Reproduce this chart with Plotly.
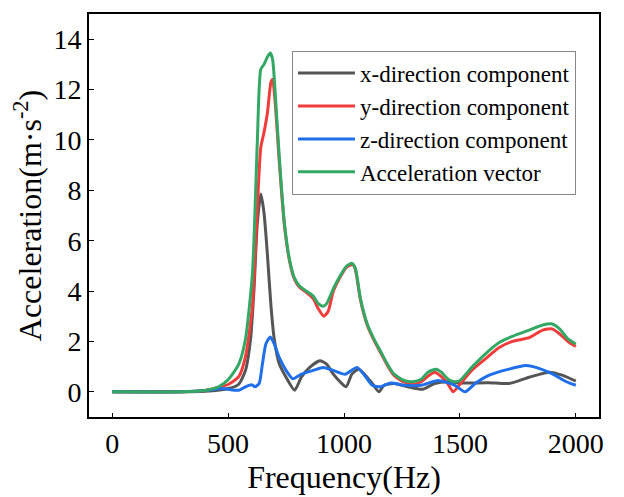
import plotly.graph_objects as go

# x-direction component
fx = [0, 300, 400, 502, 546, 575, 597, 612, 626, 641, 655, 670, 685, 699, 721, 750, 787, 816, 852, 896, 925, 954, 983, 1009, 1034, 1063, 1093, 1122, 1151, 1173, 1216, 1275, 1340, 1391, 1449, 1508, 1624, 1712, 1799, 1886, 1944, 2000]
vx = [0, 0, 0.02, 0.13, 0.3, 0.85, 2.1, 4.1, 6.7, 7.85, 7.1, 5.4, 3.4, 2.1, 1.1, 0.58, 0.06, 0.58, 0.97, 1.23, 1.1, 0.7, 0.4, 0.2, 0.7, 0.9, 0.65, 0.33, 0.0, 0.26, 0.33, 0.2, 0.1, 0.33, 0.4, 0.35, 0.36, 0.33, 0.58, 0.78, 0.65, 0.42]

# y-direction component
fy = [0, 300, 400, 502, 546, 575, 605, 626, 641, 655, 670, 685, 692, 703, 721, 743, 765, 787, 808, 837, 867, 889, 913, 932, 954, 983, 1012, 1038, 1049, 1071, 1100, 1129, 1158, 1187, 1216, 1260, 1296, 1333, 1362, 1391, 1420, 1449, 1471, 1500, 1551, 1609, 1668, 1726, 1799, 1857, 1898, 1930, 1966, 2000]
vy = [0, 0, 0.05, 0.3, 0.6, 1.4, 3.4, 7.3, 9.7, 10.3, 11.1, 12.3, 12.4, 11.5, 9.1, 6.6, 5.2, 4.45, 4.15, 3.95, 3.7, 3.3, 3.0, 3.2, 4.0, 4.55, 4.95, 5.05, 4.85, 3.65, 2.65, 2.05, 1.55, 1.05, 0.65, 0.38, 0.3, 0.4, 0.62, 0.78, 0.6, 0.3, 0.0, 0.3, 0.85, 1.3, 1.75, 2.0, 2.15, 2.45, 2.5, 2.3, 2.0, 1.8]

# z-direction component
fz = [0, 300, 400, 473, 546, 575, 602, 616, 634, 648, 663, 682, 699, 721, 750, 779, 816, 867, 910, 954, 1005, 1056, 1085, 1122, 1158, 1202, 1260, 1333, 1406, 1478, 1522, 1566, 1624, 1712, 1784, 1828, 1901, 1959, 2000]
vz = [0, 0, 0.05, 0.13, 0.06, 0.2, 0.28, 0.2, 0.33, 1.1, 1.9, 2.18, 1.9, 1.36, 0.85, 0.52, 0.7, 0.85, 0.97, 0.85, 0.7, 0.97, 0.7, 0.26, 0.2, 0.35, 0.26, 0.26, 0.45, 0.26, 0.0, 0.33, 0.65, 0.9, 1.04, 0.97, 0.7, 0.4, 0.26]

# acceleration vector
fa = [0, 300, 400, 459, 502, 546, 575, 605, 626, 641, 655, 670, 682, 692, 703, 721, 743, 765, 787, 808, 837, 867, 889, 910, 925, 954, 983, 1012, 1034, 1049, 1071, 1100, 1129, 1158, 1187, 1216, 1260, 1296, 1333, 1362, 1398, 1420, 1449, 1478, 1500, 1551, 1609, 1668, 1726, 1799, 1857, 1894, 1930, 1966, 2000]
va = [0, 0, 0.05, 0.2, 0.5, 1.1, 2.1, 4.7, 9.9, 12.8, 13.0, 13.3, 13.45, 13.2, 11.9, 9.3, 6.7, 5.25, 4.5, 4.2, 4.0, 3.8, 3.5, 3.4, 3.5, 4.1, 4.6, 5.0, 5.1, 4.9, 3.7, 2.7, 2.1, 1.6, 1.1, 0.7, 0.45, 0.4, 0.5, 0.78, 0.9, 0.78, 0.5, 0.4, 0.45, 0.97, 1.5, 1.95, 2.2, 2.45, 2.65, 2.7, 2.5, 2.1, 1.9]

names = ["x-direction component", "y-direction component", "z-direction component", "Acceleration vector"]
colors = ["#555555", "#f23c3c", "#1f6fe8", "#33a865"]

fig = go.Figure()
for f, v, n, c in zip([fx, fy, fz, fa], [vx, vy, vz, va], names, colors):
    fig.add_trace(go.Scatter(x=f, y=v, name=n, mode="lines",
                             line=dict(color=c, width=3, shape="spline", smoothing=0.6)))

font_family = "Liberation Serif"
fig.update_layout(
    width=624, height=497,
    margin=dict(l=89, r=25, t=13, b=73),
    paper_bgcolor="white", plot_bgcolor="white",
    font=dict(family=font_family, color="black"),
    showlegend=True,
    legend=dict(x=0.398, y=0.909, xanchor="left", yanchor="top",
                bordercolor="#888888", borderwidth=1, bgcolor="white",
                font=dict(size=23, family=font_family), tracegroupgap=0,
                itemwidth=57),
    xaxis=dict(range=[-100, 2100], tickvals=[0, 500, 1000, 1500, 2000],
               showgrid=False, zeroline=False, showline=True, mirror=True,
               linecolor="black", linewidth=2, ticks="inside", ticklen=4,
               tickcolor="black", tickfont=dict(size=28),
               title=dict(text="Frequency(Hz)", font=dict(size=32), standoff=4)),
    yaxis=dict(range=[-1, 15], tickvals=[0, 2, 4, 6, 8, 10, 12, 14],
               showgrid=False, zeroline=False, showline=True, mirror=True,
               linecolor="black", linewidth=2, ticks="inside", ticklen=5,
               tickcolor="black", tickfont=dict(size=28),
               title=dict(text="Acceleration(m·s<sup>-2</sup>)", font=dict(size=32), standoff=2)),
)

fig.write_html("out.html")
